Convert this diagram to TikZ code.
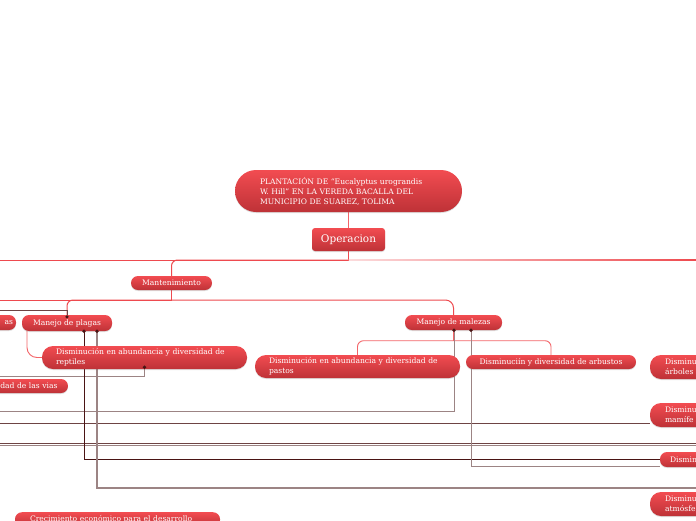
\documentclass[tikz,border=0pt]{standalone}
\usepackage{fontspec}
\setmainfont{DejaVu Serif}
\usetikzlibrary{shadows,calc}
\pgfdeclarelayer{bg}
\pgfsetlayers{bg,main}
\definecolor{rtop}{HTML}{F24C51}
\definecolor{rbot}{HTML}{BE3237}
\definecolor{redline}{HTML}{EE4A4F}
\definecolor{pinkline}{HTML}{F36468}
\definecolor{brdark}{HTML}{4A1414}
\definecolor{brmid}{HTML}{6E4444}
\definecolor{brgray}{HTML}{9C8484}
\tikzset{
 pill/.style={rounded corners=7pt, top color=rtop, bottom color=rbot, draw=none, text=white,
   font=\fontsize{7.6}{10}\selectfont, inner sep=0pt,
   drop shadow={opacity=0.25, shadow xshift=0pt, shadow yshift=-1pt}},
 redc/.style={draw=redline, line width=1pt},
 pinkc/.style={draw=pinkline, line width=0.9pt},
 brc/.style={line width=0.9pt},
}
\begin{document}
\begin{tikzpicture}[x=1pt,y=-1pt]
\useasboundingbox (0,0) rectangle (696,520);
\clip (0,0) rectangle (696,520);

% coordinates for free ends
\coordinate (L1) at (0,260);
\coordinate (R1) at (696,260);
\coordinate (L2) at (0,300);
\coordinate (L310) at (0,310);
\coordinate (L376) at (0,376);
\coordinate (L411) at (0,411);
\coordinate (L423) at (0,423);
\coordinate (L443) at (0,443);
\coordinate (R443) at (696,443);
\coordinate (L445) at (0,445.5);
\coordinate (R445) at (696,445.5);
\coordinate (R488) at (696,488);

% nodes
\node[pill, rounded corners=21pt, minimum width=227pt, minimum height=42pt, text width=177pt,
  inner xsep=25pt, align=left] (root) at (348.5,191)
  {PLANTACIÓN DE “Eucalyptus urograndis\\W. Hill” EN LA VEREDA BACALLA DEL\\MUNICIPIO DE SUAREZ, TOLIMA};
\node[pill, rounded corners=3pt, minimum width=73pt, minimum height=23pt,
  font=\fontsize{10.5}{12}\selectfont] (op) at (348.5,239.5) {Operacion};
\node[pill, minimum width=81pt, minimum height=14pt] (mant) at (171.5,283) {Mantenimiento};
\node[pill, minimum width=76pt, minimum height=15pt, text width=70pt, inner xsep=3pt, align=right] (asn) at (-22,322.5) {as};
\node[pill, minimum width=90pt, minimum height=16pt] (plagas) at (67,323) {Manejo de plagas};
\node[pill, minimum width=97pt, minimum height=15pt] (malezas) at (453.5,322.5) {Manejo de malezas};
\node[pill, rounded corners=11pt, minimum width=205pt, minimum height=23pt, text width=185pt, inner xsep=10pt, align=left]
  (rept) at (144.5,357.5) {\hspace*{4pt}Disminución en abundancia y diversidad de\\\hspace*{4pt}reptiles};
\node[pill, rounded corners=11pt, minimum width=205pt, minimum height=23pt, text width=185pt, inner xsep=10pt, align=left]
  (pastos) at (357.5,366.5) {\hspace*{4pt}Disminución en abundancia y diversidad de\\\hspace*{4pt}pastos};
\node[pill, minimum width=170pt, minimum height=14pt] (arb) at (551,362) {Disminuciín y diversidad de arbustos};
\node[pill, minimum width=90pt, minimum height=14pt, text width=75pt, inner xsep=7.5pt, align=right] (vias) at (23,386) {dad de las vias\hspace*{3pt}};
\node[pill, rounded corners=11pt, minimum width=110pt, minimum height=24pt, text width=80pt, inner xsep=15pt, align=left]
  (arbol) at (705,367) {Disminu\\árboles};
\node[pill, rounded corners=11pt, minimum width=110pt, minimum height=24pt, text width=80pt, inner xsep=15pt, align=left]
  (mam) at (705,415) {Disminu\\mamífe};
\node[pill, minimum width=100pt, minimum height=15pt, text width=80pt, inner xsep=10pt, align=left]
  (dism) at (710,459.5) {Dismin};
\node[pill, rounded corners=11pt, minimum width=110pt, minimum height=24pt, text width=80pt, inner xsep=15pt, align=left]
  (atm) at (705,504) {Disminu\\atmósfe};
\node[pill, anchor=north, minimum width=205pt, text width=185pt, inner xsep=10pt, inner ysep=3.5pt, align=left]
  (crec) at (117.5,512) {\hspace*{5pt}Crecimiento económico para el desarrollo};

\begin{pgfonlayer}{bg}
\fill[white] (0,0) rectangle (696,520);
% red / pink connectors
\draw[pinkc] (root.south) -- (op.north);
\draw[redc] (op.south) -- (op.south |- L1) -- (L1);
\shade[left color=redline!20, right color=redline] ($(op.south |- L1)+(0,-0.5)$) rectangle ($(R1)+(0,0.5)$);
\draw[redc, rounded corners=6pt] (op.south |- L1) -| (mant.north);
\draw[redc] (mant.south) -- (mant.south |- L2) -- (L2);
\draw[redc, rounded corners=8pt] (mant.south |- L2) -| (malezas.north);
\draw[redc, rounded corners=6pt] (mant.south |- L2) -| (plagas.north);
\draw[pinkc, rounded corners=10pt] ([xshift=-40pt]plagas.south) |- (rept.west);
\draw[pinkc] (malezas.south) -- ++(0,10.5) coordinate (m1);
\draw[pinkc, rounded corners=6pt] (m1) -| (pastos.north);
\draw[pinkc, rounded corners=6pt] (m1) -| (arb.north);

% brown connectors
\draw[brc, draw=brmid] (L310) -| ([yshift=-2pt]plagas.north);
\draw[brc, draw=brgray] ([yshift=2pt]rept.south) |- (L376);
\draw[brc, draw=brgray] ([xshift=0.5pt]malezas.south) |- (L411);
\draw[brc, draw=brmid] (L423) -- (mam.west |- L423);
\draw[brc, draw=brmid] (L443) -- (R443);
\draw[brc, draw=brgray, line width=1.2pt] (L445) -- (R445);
\draw[brc, draw=brdark] ([xshift=17pt]plagas.south) |- (dism.west);
\draw[brc, draw=brgray] ([xshift=17.5pt]malezas.south) |- (dism.west |- 0,466);
\draw[brc, draw=brgray, line width=1.1pt] ([xshift=30pt]plagas.south) |- (R488);
\end{pgfonlayer}

% dots
\fill[brdark] ([yshift=-2pt]plagas.north) circle (1.8pt);
\fill[brdark] ([yshift=2pt]rept.south) circle (1.8pt);
\fill[brdark] ([xshift=0.5pt]malezas.south) circle (1.8pt);
\fill[brdark] ([xshift=17pt]plagas.south) circle (1.8pt);
\fill[brdark] ([xshift=17.5pt]malezas.south) circle (1.8pt);
\fill[brdark] ([xshift=30pt]plagas.south) circle (1.8pt);
\end{tikzpicture}
\end{document}
